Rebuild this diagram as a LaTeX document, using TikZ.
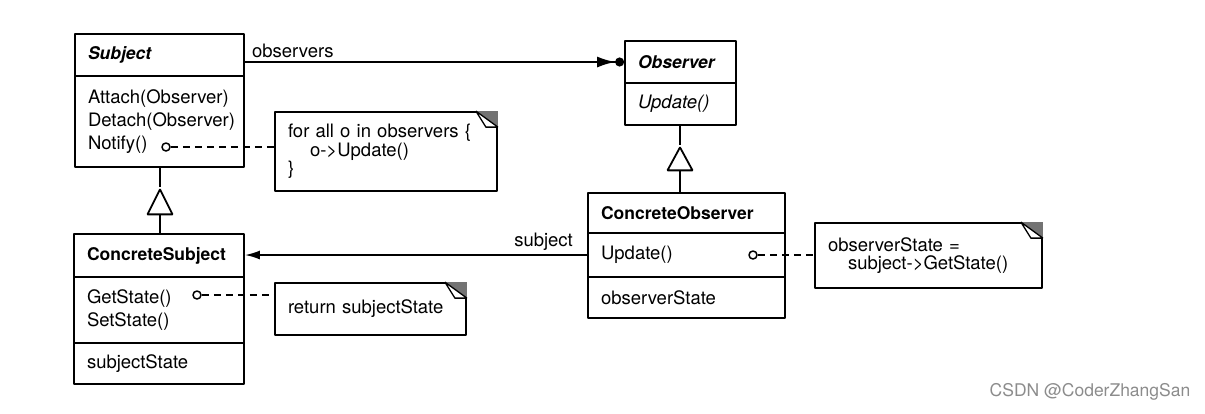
\documentclass[tikz,border=0pt]{standalone}
\usepackage{fontspec}
\setmainfont{TeX Gyre Heros}
\usetikzlibrary{arrows.meta,shapes.geometric,calc}
\begin{document}
\begin{tikzpicture}[x=1pt,y=-1pt,>=latex,line join=bevel,
  every node/.style={font=\fontsize{18.5}{23}\selectfont},
  cls/.style={draw,line width=1.8pt,inner xsep=13pt,inner ysep=0pt,align=left},
  clsname/.style={cls,font=\fontsize{17.5}{23}\selectfont\bfseries},
  note/.style={draw,line width=1.8pt,inner xsep=13pt,inner ysep=0pt,align=left,font=\fontsize{18.5}{18.5}\selectfont},
  port/.style={circle,draw,line width=1.5pt,fill=white,inner sep=0pt,minimum size=8pt},
  inherit/.style={isosceles triangle,isosceles triangle stretches,shape border rotate=90,draw,line width=1.8pt,fill=white,inner sep=0pt,minimum height=25pt,minimum width=25pt,anchor=apex},
  link/.style={line width=1.8pt},
  attach/.style={line width=1.5pt,dash pattern=on 7pt off 5pt}]
\useasboundingbox (0,0) rectangle (1205,413);
%%
\node (subject_head) at (159.5,55) [clsname,text width=143,minimum height=42] {\textit{Subject}};
  \node (subject_ops) at (159.5,121.5) [cls,text width=143,minimum height=91] {Attach(Observer)\\Detach(Observer)\\Notify()};
  \node (observer_head) at (680.5,62) [clsname,text width=85,minimum height=42] {\textit{Observer}};
  \node (observer_ops) at (680.5,104) [cls,text width=85,minimum height=42] {\textit{Update()}};
  \node (csubject_head) at (159,255.5) [clsname,text width=144,minimum height=43] {ConcreteSubject};
  \node (csubject_ops) at (159,310) [cls,text width=144,minimum height=66] {GetState()\\SetState()};
  \node (csubject_state) at (159,363.5) [cls,text width=144,minimum height=41] {subjectState};
  \node (cobserver_head) at (686.5,213) [clsname,text width=171,minimum height=40] {ConcreteObserver};
  \node (cobserver_ops) at (686.5,255) [cls,text width=171,minimum height=44] {Update()};
  \node (cobserver_state) at (686.5,297.5) [cls,text width=171,minimum height=41] {observerState};
%
\node (note_notify) at (386,151.5) [note,text width=196,minimum height=79] {for all o in observers \{\\\hspace*{22pt}o->Update()\\\}};
  \node (note_getstate) at (370.5,309) [note,text width=165,minimum height=52] {return subjectState};
  \node (note_update) at (928.5,255.5) [note,text width=201,minimum height=65] {observerState =\\\hspace*{20pt}subject->GetState()};
  \foreach \n in {note_notify,note_getstate,note_update} {
    \fill [black!55] ($(\n.north east)+(-22,0)$) -- (\n.north east) -- ($(\n.north east)+(0,16)$) -- cycle;
    \draw [line width=1.3pt,fill=white] ($(\n.north east)+(-22,0)$) -- ($(\n.north east)+(0,16)$) -- ($(\n.north east)+(-12,16)$) -- cycle;
  }
%
\node (port_notify) at (166,147) [port] {};
  \node (port_getstate) at (197,295) [port] {};
  \node (port_update) at (753,255) [port] {};
  \draw [attach] (port_notify) -- (port_notify -| note_notify.west);
  \draw [attach] (port_getstate) -- (port_getstate -| note_getstate.west);
  \draw [attach] (port_update) -- (port_update -| note_update.west);
%
\node (gen_subject) at (160,187) [inherit] {};
  \node (gen_observer) at (680,145) [inherit,minimum height=23pt] {};
  \draw [link] (gen_subject.apex |- subject_ops.south) -- (gen_subject.apex);
  \draw [link] (gen_subject.lower side) -- (gen_subject.lower side |- csubject_head.north);
  \draw [link] (gen_observer.apex |- observer_ops.south) -- (gen_observer.apex);
  \draw [link] (gen_observer.lower side) -- (gen_observer.lower side |- cobserver_head.north);
%
\draw [link,-{Latex[length=18pt,width=11pt]Circle[length=9pt]}] (subject_head.east |- observer_head.west) -- (observer_head.west) node [pos=0,anchor=south west,xshift=3pt] {observers};
  \draw [link,-{Latex[length=15pt,width=9pt]}] (cobserver_ops.west) -- (cobserver_ops.west -| csubject_head.east) node [pos=0,anchor=south east,xshift=-10pt] {subject};
%
\node (mark) at (1090,392) [font=\fontsize{17.5}{20}\selectfont,text=black!45] {CSDN @CoderZhangSan};
%
\end{tikzpicture}
\end{document}
